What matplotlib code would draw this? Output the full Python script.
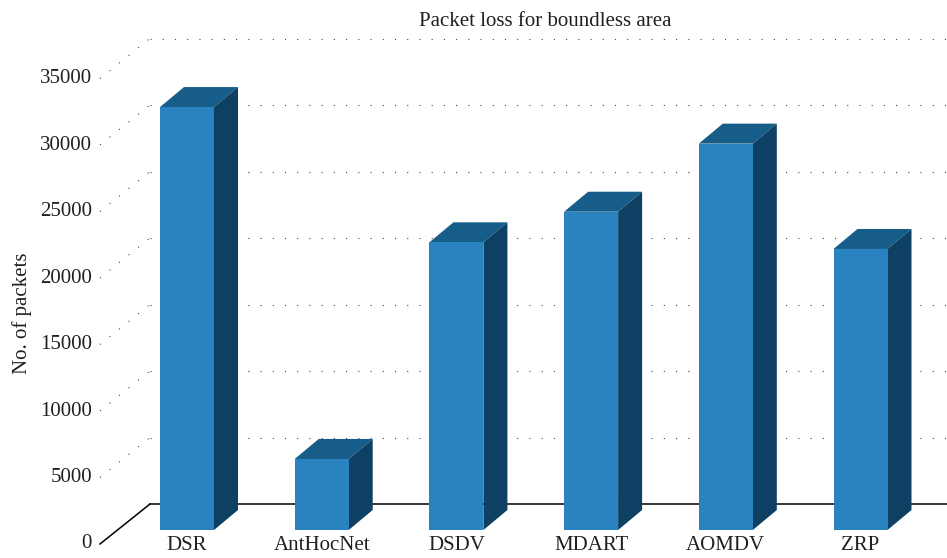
import matplotlib
matplotlib.use("Agg")
import matplotlib.pyplot as plt
from matplotlib.patches import Polygon

categories = ["DSR", "AntHocNet", "DSDV", "MDART", "AOMDV", "ZRP"]
values = [31800, 5340, 21630, 23930, 29050, 21130]
yticks = [0, 5000, 10000, 15000, 20000, 25000, 30000, 35000]
title = "Packet loss for boundless area"
ylabel = "No. of packets"

W, H, DPI = 947, 558, 100
FONT = "Liberation Serif"
TXT = "#231f20"
C_FRONT = "#2a82c0"
C_TOP = "#165e89"
C_SIDE = "#0d4062"

# pixel scales
px_per_unit_y = 66.5 / 5000.0
px_per_cat = 134.7
y0_px = H - 530          # baseline of bar front plane (from bottom)
x0_px = 187              # centre of first bar front

fig = plt.figure(figsize=(W / DPI, H / DPI), dpi=DPI)
ax = fig.add_axes([0, 0, 1, 1])
ax.set_xlim(-x0_px / px_per_cat, (W - x0_px) / px_per_cat)
ax.set_ylim(-y0_px / px_per_unit_y, (H - y0_px) / px_per_unit_y)
ax.axis("off")

def dx(px):
    return px / px_per_cat

def dy(px):
    return px / px_per_unit_y

bar_w = dx(54)
bar_dx, bar_dy = dx(24), dy(20)
back_dx, back_dy = dx(32.5), dy(26)
lab_dx, lab_dy = dx(-17.5), dy(-14)
x_left = dx(117.5 - x0_px)   # left edge of bar plane
xmax = ax.get_xlim()[1]

dot = dict(color="#444444", lw=0.8, linestyle=(0, (1, 10)), zorder=1)

# back floor line and diagonal floor edge
ax.plot([x_left + back_dx, xmax], [back_dy, back_dy], color="black", lw=1.1, zorder=2)
ax.plot([x_left + lab_dx, x_left + back_dx], [lab_dy, back_dy], color="black", lw=1.1, zorder=2)

for t in yticks:
    if t > 0:
        ax.plot([x_left + back_dx, xmax], [t + back_dy, t + back_dy], **dot)
        ax.plot([x_left + lab_dx, x_left + back_dx], [t + lab_dy, t + back_dy], **dot)
    ax.text(x_left + lab_dx - dx(8), t + lab_dy, f"{t}", ha="right", va="center",
            fontsize=15, family=FONT, color=TXT)

xs = list(range(len(categories)))
ax.bar(xs, values, width=bar_w, color=C_FRONT, zorder=5, linewidth=0)
for x, v in zip(xs, values):
    l, r = x - bar_w / 2, x + bar_w / 2
    top = Polygon([(l, v), (r, v), (r + bar_dx, v + bar_dy), (l + bar_dx, v + bar_dy)],
                  closed=True, facecolor=C_TOP, edgecolor="none", zorder=4)
    side = Polygon([(r, 0), (r + bar_dx, bar_dy), (r + bar_dx, v + bar_dy), (r, v)],
                   closed=True, facecolor=C_SIDE, edgecolor="none", zorder=4)
    ax.add_patch(top)
    ax.add_patch(side)

for x, c in zip(xs, categories):
    ax.text(x, dy(-15), c, ha="center", va="center", fontsize=15, family=FONT, color=TXT)

fig.text(545 / W, 1 - 21 / H, title, ha="center", va="center", fontsize=15,
         family=FONT, color=TXT)
fig.text(22 / W, 1 - 313 / H, ylabel, ha="center", va="center", rotation=90,
         fontsize=15, family=FONT, color=TXT)

fig.savefig("out.png", dpi=DPI)
